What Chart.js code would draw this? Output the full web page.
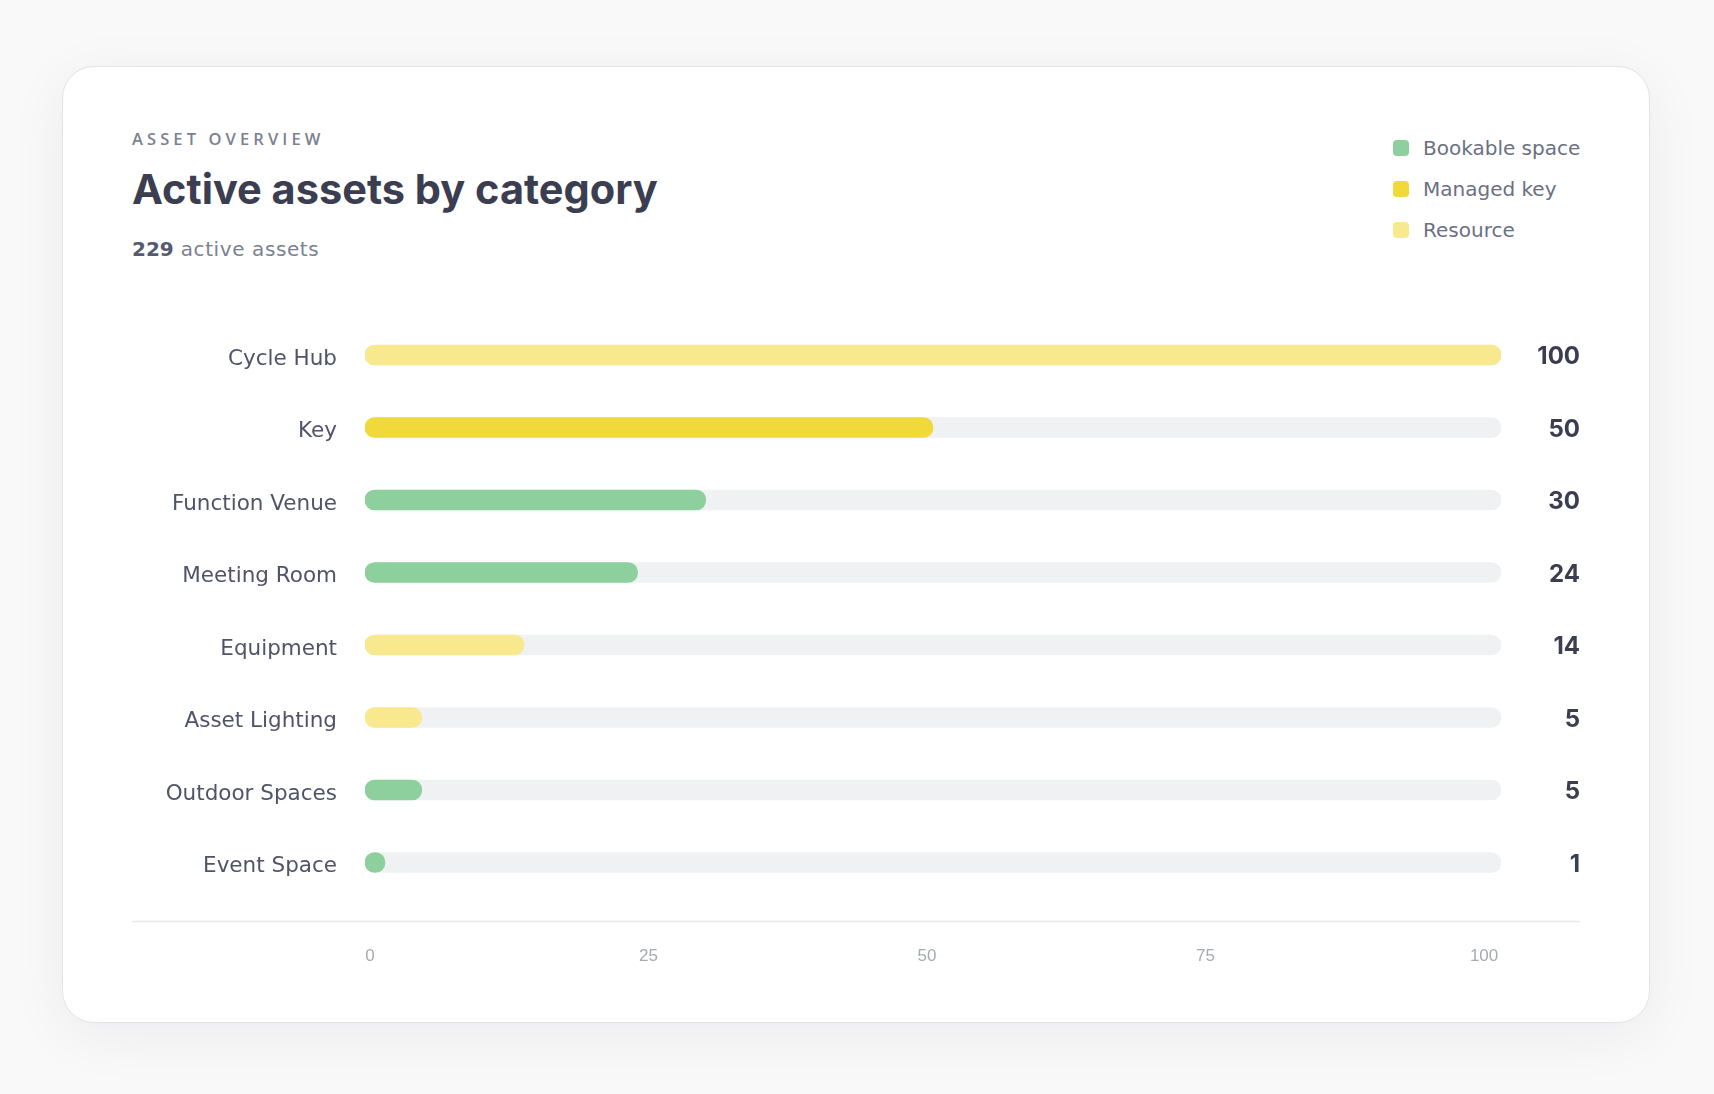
<!DOCTYPE html>
<html>
<head>
<meta charset="utf-8">
<script src="https://cdn.jsdelivr.net/npm/chart.js@4.4.1/dist/chart.umd.min.js"></script>
<style>
    html, body { margin: 0; padding: 0; }
    body {
        width: 1714px;
        height: 1094px;
        background: #f9f9fa;
        position: relative;
        overflow: hidden;
        font-family: "DejaVu Sans", sans-serif;
    }
    .card {
        position: absolute;
        left: 62px;
        top: 66px;
        width: 1586px;
        height: 955px;
        background: #fff;
        border: 1px solid #e2e4e7;
        border-radius: 32px;
        box-shadow: 0 12px 60px rgba(20, 24, 40, 0.06);
    }
    .eyebrow {
        position: absolute;
        left: 132px;
        top: 131px;
        font-family: "Open Sans", sans-serif;
        font-size: 16.5px;
        line-height: 16.5px;
        font-weight: 600;
        letter-spacing: 4.1px;
        color: #7b8191;
        white-space: nowrap;
    }
    .title {
        position: absolute;
        left: 132px;
        top: 169px;
        margin: 0;
        font-family: Inter, sans-serif;
        font-size: 41.5px;
        line-height: 41.5px;
        font-weight: 700;
        letter-spacing: 0;
        color: #3b3d50;
        white-space: nowrap;
    }
    .sub {
        position: absolute;
        left: 132px;
        top: 239px;
        font-size: 20px;
        line-height: 20px;
        color: #7b8191;
        white-space: nowrap;
    }
    .sub b { color: #555a6e; font-weight: 700; }
    .sub span { letter-spacing: 0.6px; }
    #legend {
        position: absolute;
        left: 1393px;
        top: 138px;
    }
    .legend-item {
        display: flex;
        align-items: center;
        height: 20px;
        margin-bottom: 21px;
        font-size: 20px;
        line-height: 20px;
        color: #6b7084;
        white-space: nowrap;
    }
    .legend-item span.sw {
        width: 16px;
        height: 16px;
        border-radius: 4px;
        margin-right: 14px;
    }
    .chart-wrap {
        position: absolute;
        left: 120px;
        top: 300px;
        width: 1480px;
        height: 690px;
    }
</style>
</head>
<body>
<div class="card"></div>
<div class="eyebrow">ASSET OVERVIEW</div>
<h1 class="title">Active assets by category</h1>
<div class="sub"><b>229</b><span> active assets</span></div>
<div id="legend"></div>
<div class="chart-wrap"><canvas id="chart"></canvas></div>
<script>
const categories = ['Cycle Hub', 'Key', 'Function Venue', 'Meeting Room', 'Equipment', 'Asset Lighting', 'Outdoor Spaces', 'Event Space'];
const counts = [100, 50, 30, 24, 14, 5, 5, 1];
const assetTypes = ['Resource', 'Managed key', 'Bookable space', 'Bookable space', 'Resource', 'Resource', 'Bookable space', 'Bookable space'];
const typeNames = ['Bookable space', 'Managed key', 'Resource'];
const typeColors = ['#8dd09e', '#f2d93b', '#f8e98f'];
const xTickValues = [0, 25, 50, 75, 100];
const scaleMax = 100;

const trackColor = '#f0f1f3';

// legend is plain html, top right of the card
const legendEl = document.getElementById('legend');
typeNames.forEach((name, i) => {
    const item = document.createElement('div');
    item.className = 'legend-item';
    item.innerHTML = `<span class="sw" style="background:${typeColors[i]}"></span>${name}`;
    legendEl.appendChild(item);
});

const barColors = assetTypes.map(t => typeColors[typeNames.indexOf(t)]);

// thin rule under the rows, spanning labels to values
const separator = {
    id: 'separator',
    afterDraw(chart) {
        const { ctx, scales } = chart;
        const y = Math.round(chart.chartArea.bottom + 22) + 0.5;
        ctx.save();
        ctx.strokeStyle = '#e5e7eb';
        ctx.lineWidth = 1.5;
        ctx.beginPath();
        ctx.moveTo(scales.y.left, y);
        ctx.lineTo(scales.y2.right, y);
        ctx.stroke();
        ctx.restore();
    }
};

// fixed side widths, and no extra label padding above/below the rows
function fixWidth(w) {
    return scale => {
        scale.width = w;
        scale.paddingTop = 0;
        scale.paddingBottom = 0;
    };
}

const ctx = document.getElementById('chart').getContext('2d');
new Chart(ctx, {
    type: 'bar',
    data: {
        labels: categories,
        datasets: [
            {
                label: 'Active assets',
                data: counts,
                backgroundColor: barColors,
                barThickness: 20,
                borderRadius: 10,
                borderSkipped: false,
                minBarLength: 20,
                grouped: false,
                order: 0
            },
            {
                label: 'Track',
                data: categories.map(() => scaleMax),
                backgroundColor: trackColor,
                barThickness: 20,
                borderRadius: 10,
                borderSkipped: false,
                grouped: false,
                order: 1
            }
        ]
    },
    options: {
        indexAxis: 'y',
        responsive: true,
        maintainAspectRatio: false,
        animation: false,
        layout: {
            padding: { left: 12, right: 20, top: 18.75, bottom: 21.25 }
        },
        scales: {
            x: {
                display: false,
                min: 0,
                max: scaleMax
            },
            // tick row under the rule, its own axis so labels sit a little inside the track ends
            xTicks: {
                type: 'linear',
                position: 'bottom',
                min: -0.45,
                max: 101.52,
                grid: { display: false },
                border: { display: false },
                afterBuildTicks: scale => {
                    scale.ticks = xTickValues.map(v => ({ value: v }));
                },
                afterFit: scale => { scale.height = 70; },
                ticks: {
                    padding: 39,
                    color: '#a4abb1',
                    font: { family: '"Liberation Sans", Arial, sans-serif', size: 17 }
                }
            },
            y: {
                type: 'category',
                position: 'left',
                grid: { display: false },
                border: { display: false },
                afterFit: fixWidth(233),
                ticks: {
                    padding: 20,
                    labelOffset: 4,
                    color: '#4f5468',
                    font: { family: '"DejaVu Sans", sans-serif', size: 21.5 }
                }
            },
            y2: {
                type: 'category',
                position: 'right',
                labels: counts.map(String),
                grid: { display: false },
                border: { display: false },
                afterFit: fixWidth(79),
                ticks: {
                    crossAlign: 'far',
                    labelOffset: 2,
                    color: '#3b3d50',
                    font: { family: 'Inter, sans-serif', size: 24, weight: 700 }
                }
            }
        },
        plugins: {
            legend: { display: false },
            tooltip: { enabled: false }
        }
    },
    plugins: [separator]
});
</script>
</body>
</html>
